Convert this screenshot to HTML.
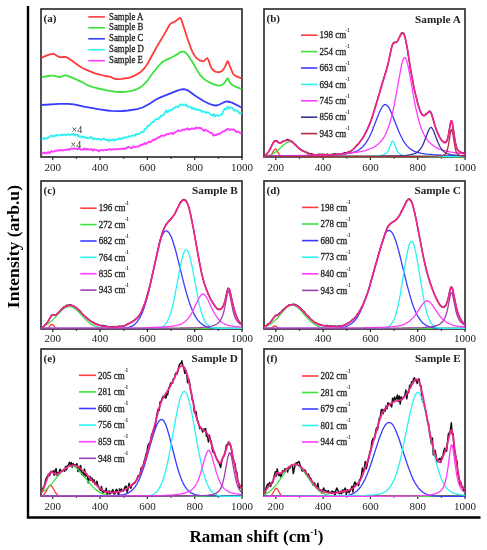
<!DOCTYPE html><html><head><meta charset="utf-8"><style>
body{margin:0;background:#fff;overflow:hidden}
svg{display:block;filter:blur(0.35px)}
text{font-family:"Liberation Serif",serif;fill:#222}
.tk{font-size:11px;text-anchor:middle;fill:#222}
.pl{font-size:11px;font-weight:bold;fill:#222}
.st{font-size:11.2px;font-weight:bold;text-anchor:end;fill:#222}
.lg{font-size:9px;fill:#1a1a1a;stroke:#1a1a1a;stroke-width:0.25px}
.sup{font-size:4.6px;stroke-width:0.15px}
.x4{font-size:10px;fill:#333}
.yt{font-size:17.6px;font-weight:bold;text-anchor:middle;fill:#000}
.xt{font-size:17px;font-weight:bold;text-anchor:middle;fill:#000}
.sup2{font-size:9px}
</style></head><body><svg width="487" height="550" viewBox="0 0 487 550"><defs><clipPath id="ca"><rect x="41" y="9" width="201" height="149"/></clipPath><clipPath id="cb"><rect x="264" y="9" width="201" height="149"/></clipPath><clipPath id="cc"><rect x="41" y="181" width="201" height="149"/></clipPath><clipPath id="cd"><rect x="264" y="181" width="201" height="149"/></clipPath><clipPath id="ce"><rect x="41" y="349" width="201" height="148"/></clipPath><clipPath id="cf"><rect x="264" y="349" width="201" height="148"/></clipPath></defs><rect x="41" y="9" width="201" height="148" fill="none" stroke="#262626" stroke-width="1.6"/><line x1="52.82" x2="52.82" y1="157" y2="160.0" stroke="#262626" stroke-width="1.2"/><line x1="76.47" x2="76.47" y1="157" y2="158.8" stroke="#262626" stroke-width="1.2"/><line x1="100.12" x2="100.12" y1="157" y2="160.0" stroke="#262626" stroke-width="1.2"/><line x1="123.76" x2="123.76" y1="157" y2="158.8" stroke="#262626" stroke-width="1.2"/><line x1="147.41" x2="147.41" y1="157" y2="160.0" stroke="#262626" stroke-width="1.2"/><line x1="171.06" x2="171.06" y1="157" y2="158.8" stroke="#262626" stroke-width="1.2"/><line x1="194.71" x2="194.71" y1="157" y2="160.0" stroke="#262626" stroke-width="1.2"/><line x1="218.35" x2="218.35" y1="157" y2="158.8" stroke="#262626" stroke-width="1.2"/><line x1="242.00" x2="242.00" y1="157" y2="160.0" stroke="#262626" stroke-width="1.2"/><rect x="264" y="9" width="201" height="148" fill="none" stroke="#262626" stroke-width="1.6"/><line x1="275.82" x2="275.82" y1="157" y2="160.0" stroke="#262626" stroke-width="1.2"/><line x1="299.47" x2="299.47" y1="157" y2="158.8" stroke="#262626" stroke-width="1.2"/><line x1="323.12" x2="323.12" y1="157" y2="160.0" stroke="#262626" stroke-width="1.2"/><line x1="346.76" x2="346.76" y1="157" y2="158.8" stroke="#262626" stroke-width="1.2"/><line x1="370.41" x2="370.41" y1="157" y2="160.0" stroke="#262626" stroke-width="1.2"/><line x1="394.06" x2="394.06" y1="157" y2="158.8" stroke="#262626" stroke-width="1.2"/><line x1="417.71" x2="417.71" y1="157" y2="160.0" stroke="#262626" stroke-width="1.2"/><line x1="441.35" x2="441.35" y1="157" y2="158.8" stroke="#262626" stroke-width="1.2"/><line x1="465.00" x2="465.00" y1="157" y2="160.0" stroke="#262626" stroke-width="1.2"/><rect x="41" y="181" width="201" height="148" fill="none" stroke="#262626" stroke-width="1.6"/><line x1="52.82" x2="52.82" y1="329" y2="332.0" stroke="#262626" stroke-width="1.2"/><line x1="76.47" x2="76.47" y1="329" y2="330.8" stroke="#262626" stroke-width="1.2"/><line x1="100.12" x2="100.12" y1="329" y2="332.0" stroke="#262626" stroke-width="1.2"/><line x1="123.76" x2="123.76" y1="329" y2="330.8" stroke="#262626" stroke-width="1.2"/><line x1="147.41" x2="147.41" y1="329" y2="332.0" stroke="#262626" stroke-width="1.2"/><line x1="171.06" x2="171.06" y1="329" y2="330.8" stroke="#262626" stroke-width="1.2"/><line x1="194.71" x2="194.71" y1="329" y2="332.0" stroke="#262626" stroke-width="1.2"/><line x1="218.35" x2="218.35" y1="329" y2="330.8" stroke="#262626" stroke-width="1.2"/><line x1="242.00" x2="242.00" y1="329" y2="332.0" stroke="#262626" stroke-width="1.2"/><rect x="264" y="181" width="201" height="148" fill="none" stroke="#262626" stroke-width="1.6"/><line x1="275.82" x2="275.82" y1="329" y2="332.0" stroke="#262626" stroke-width="1.2"/><line x1="299.47" x2="299.47" y1="329" y2="330.8" stroke="#262626" stroke-width="1.2"/><line x1="323.12" x2="323.12" y1="329" y2="332.0" stroke="#262626" stroke-width="1.2"/><line x1="346.76" x2="346.76" y1="329" y2="330.8" stroke="#262626" stroke-width="1.2"/><line x1="370.41" x2="370.41" y1="329" y2="332.0" stroke="#262626" stroke-width="1.2"/><line x1="394.06" x2="394.06" y1="329" y2="330.8" stroke="#262626" stroke-width="1.2"/><line x1="417.71" x2="417.71" y1="329" y2="332.0" stroke="#262626" stroke-width="1.2"/><line x1="441.35" x2="441.35" y1="329" y2="330.8" stroke="#262626" stroke-width="1.2"/><line x1="465.00" x2="465.00" y1="329" y2="332.0" stroke="#262626" stroke-width="1.2"/><rect x="41" y="349" width="201" height="147" fill="none" stroke="#262626" stroke-width="1.6"/><line x1="52.82" x2="52.82" y1="496" y2="499.0" stroke="#262626" stroke-width="1.2"/><line x1="76.47" x2="76.47" y1="496" y2="497.8" stroke="#262626" stroke-width="1.2"/><line x1="100.12" x2="100.12" y1="496" y2="499.0" stroke="#262626" stroke-width="1.2"/><line x1="123.76" x2="123.76" y1="496" y2="497.8" stroke="#262626" stroke-width="1.2"/><line x1="147.41" x2="147.41" y1="496" y2="499.0" stroke="#262626" stroke-width="1.2"/><line x1="171.06" x2="171.06" y1="496" y2="497.8" stroke="#262626" stroke-width="1.2"/><line x1="194.71" x2="194.71" y1="496" y2="499.0" stroke="#262626" stroke-width="1.2"/><line x1="218.35" x2="218.35" y1="496" y2="497.8" stroke="#262626" stroke-width="1.2"/><line x1="242.00" x2="242.00" y1="496" y2="499.0" stroke="#262626" stroke-width="1.2"/><rect x="264" y="349" width="201" height="147" fill="none" stroke="#262626" stroke-width="1.6"/><line x1="275.82" x2="275.82" y1="496" y2="499.0" stroke="#262626" stroke-width="1.2"/><line x1="299.47" x2="299.47" y1="496" y2="497.8" stroke="#262626" stroke-width="1.2"/><line x1="323.12" x2="323.12" y1="496" y2="499.0" stroke="#262626" stroke-width="1.2"/><line x1="346.76" x2="346.76" y1="496" y2="497.8" stroke="#262626" stroke-width="1.2"/><line x1="370.41" x2="370.41" y1="496" y2="499.0" stroke="#262626" stroke-width="1.2"/><line x1="394.06" x2="394.06" y1="496" y2="497.8" stroke="#262626" stroke-width="1.2"/><line x1="417.71" x2="417.71" y1="496" y2="499.0" stroke="#262626" stroke-width="1.2"/><line x1="441.35" x2="441.35" y1="496" y2="497.8" stroke="#262626" stroke-width="1.2"/><line x1="465.00" x2="465.00" y1="496" y2="499.0" stroke="#262626" stroke-width="1.2"/><g clip-path="url(#ca)" fill="none" stroke-width="1.8" stroke-linejoin="round"><path stroke="#ff3b3b" d="M41.5 57.7L49.0 54.6L52.0 53.9L53.5 53.9L55.0 54.5L58.5 56.7L59.5 57.1L61.0 57.2L64.5 56.9L66.0 57.2L67.5 57.8L72.0 60.7L78.5 65.4L82.0 67.7L86.0 69.7L95.0 73.3L105.0 76.0L110.5 76.8L114.0 78.6L115.5 79.0L118.0 79.1L121.5 78.9L127.5 78.0L130.5 77.3L134.0 75.9L138.0 73.8L141.0 71.7L144.0 68.7L146.0 66.0L148.5 62.0L156.5 47.2L164.5 33.9L169.5 25.0L171.0 23.4L172.0 22.8L174.0 22.2L177.0 20.1L179.0 18.3L180.0 17.9L180.5 18.2L181.0 18.8L181.5 19.9L187.5 38.7L191.5 49.7L193.0 53.0L194.0 54.7L195.5 56.8L197.0 58.4L199.5 60.3L201.5 61.0L203.0 61.1L204.0 61.0L204.5 60.7L206.5 58.5L207.0 58.2L207.5 58.4L208.5 60.1L210.5 66.0L212.0 68.8L213.0 70.0L214.5 71.2L216.0 71.9L217.5 72.2L219.0 72.2L220.0 72.0L221.5 71.3L222.5 70.5L224.0 68.4L225.5 65.7L227.5 61.2L228.0 61.4L228.5 62.5L232.0 71.5L233.0 73.5L234.0 74.8L236.5 76.4L241.5 78.3"/><path stroke="#3de23d" d="M41.5 77.1L48.5 76.0L52.5 75.6L54.0 75.7L58.0 76.8L59.5 77.0L61.0 76.7L64.5 75.5L66.5 75.5L68.5 76.1L80.5 81.3L83.5 82.8L88.5 85.7L92.0 86.9L96.0 88.0L108.0 90.6L116.0 91.8L122.0 92.0L126.5 91.7L130.0 91.2L133.5 90.4L137.0 89.1L140.0 87.5L142.5 85.7L144.5 83.8L148.0 79.8L150.0 76.8L158.0 66.5L161.5 62.8L163.5 61.2L165.5 60.1L173.0 56.8L180.0 52.4L182.0 51.6L183.5 51.6L185.0 52.2L185.5 52.6L186.5 53.5L188.0 55.3L193.0 63.0L197.5 71.0L200.0 74.8L203.0 78.1L206.5 80.7L210.0 82.6L214.0 84.4L217.5 85.4L220.0 85.7L222.0 85.0L224.5 83.0L225.5 81.6L227.0 78.7L227.5 78.4L228.0 78.5L228.5 79.3L230.0 82.7L231.5 84.4L234.5 86.2L241.5 89.2"/><path stroke="#3b3bff" d="M41.5 105.0L59.0 103.9L68.0 103.8L74.0 104.4L84.0 106.7L99.5 109.4L107.5 110.5L111.5 110.9L117.5 111.1L122.0 111.0L128.0 110.5L137.0 109.1L142.5 107.5L146.0 105.8L150.0 103.5L156.0 99.5L161.0 97.1L178.0 90.3L181.0 89.5L183.5 89.2L185.5 89.5L187.5 90.3L189.5 91.5L194.5 95.2L203.5 101.0L209.0 103.7L212.5 105.0L214.5 105.4L216.0 105.5L218.0 105.2L224.0 102.3L225.5 101.7L227.5 101.5L230.0 102.0L232.5 102.9L241.5 107.5"/><path stroke="#2ef2f2" d="M41.5 139.4L42.0 139.2L43.5 138.1L44.0 138.2L44.5 138.8L45.0 139.0L46.0 138.1L47.0 138.4L48.0 137.5L48.5 137.7L49.0 137.5L50.0 136.2L51.0 135.5L53.5 136.8L54.0 135.8L54.5 135.2L55.0 135.3L55.5 136.1L57.0 135.0L57.5 135.0L58.5 135.6L60.0 135.6L61.0 135.0L61.5 135.2L62.5 134.5L63.0 135.0L64.5 134.6L65.5 135.0L66.0 135.4L66.5 135.0L67.0 134.2L67.5 134.2L68.5 134.6L69.0 134.5L70.0 135.0L70.5 134.9L71.5 134.1L72.0 134.3L73.0 133.9L73.5 134.0L74.5 135.5L75.0 135.3L75.5 134.7L77.5 134.8L78.0 136.0L78.5 136.7L79.0 136.7L79.5 136.2L80.0 136.1L80.5 136.8L81.0 137.1L82.0 136.7L83.0 137.1L83.5 136.7L84.0 136.7L84.5 136.8L85.5 138.0L86.0 138.2L87.0 137.9L88.5 138.4L89.0 137.8L89.5 137.8L90.5 137.0L91.0 136.8L92.0 138.0L92.5 139.0L93.0 139.3L94.0 138.3L94.5 138.8L95.0 139.1L95.5 138.9L96.5 139.4L97.5 138.9L99.5 138.9L100.0 139.5L101.0 140.0L101.5 139.6L102.0 139.4L103.0 138.6L104.5 139.4L105.0 139.1L105.5 139.8L106.0 139.5L106.5 140.2L108.0 139.9L109.0 141.2L110.0 140.0L110.5 139.8L111.0 140.1L112.0 140.3L112.5 139.8L113.5 139.2L115.0 140.6L116.5 139.3L117.0 139.1L118.5 139.1L119.5 138.2L120.5 139.1L121.5 138.1L122.0 138.8L122.5 138.7L123.5 137.5L124.0 137.2L124.5 137.3L125.5 138.0L126.0 137.4L127.5 137.1L128.5 136.1L130.0 136.9L131.5 135.7L132.5 135.8L133.5 135.3L134.5 135.8L135.0 135.7L136.0 134.0L136.5 133.9L137.0 134.4L137.5 134.6L138.5 133.9L139.5 133.9L140.0 133.3L140.5 133.1L141.0 132.3L142.0 131.7L142.5 132.0L143.5 132.1L144.0 131.1L144.5 129.3L145.0 128.6L146.0 128.5L146.5 128.2L147.0 127.6L147.5 126.3L148.0 125.6L149.0 126.1L151.0 123.2L152.5 122.0L153.5 122.2L155.0 119.8L155.5 119.4L157.5 118.8L158.0 119.4L159.5 117.3L160.0 117.3L161.0 115.6L162.0 115.8L162.5 115.5L163.0 114.9L164.0 114.6L165.0 112.4L166.0 110.9L166.5 110.4L167.5 112.3L168.0 111.7L168.5 110.5L169.0 110.6L169.5 110.9L170.0 110.8L170.5 110.1L171.0 109.8L172.0 109.7L172.5 109.5L173.0 108.6L173.5 108.2L174.0 107.8L174.5 108.0L175.0 107.4L176.5 106.3L177.0 106.5L177.5 107.0L178.0 107.1L179.0 105.9L180.0 104.4L180.5 104.4L181.0 105.1L182.0 104.3L182.5 104.3L183.0 105.0L183.5 105.3L184.5 105.4L185.5 105.1L186.0 104.2L187.5 106.8L189.5 106.6L190.0 106.7L190.5 106.9L191.5 108.4L192.0 108.5L193.0 107.7L194.0 109.2L194.5 109.5L195.5 108.7L196.0 108.7L197.0 109.8L198.0 109.6L198.5 110.0L199.0 109.7L200.0 109.7L200.5 110.6L201.0 110.7L202.5 112.0L203.5 111.3L204.0 111.6L205.0 111.8L206.0 113.2L206.5 112.9L207.0 112.1L207.5 112.4L208.5 112.3L211.0 115.0L211.5 114.9L212.5 115.5L213.0 115.1L213.5 114.2L214.0 114.3L215.0 116.3L215.5 116.1L216.0 115.3L216.5 114.9L217.5 115.7L218.5 115.8L219.0 115.7L221.0 114.5L222.0 114.4L222.5 113.6L223.0 111.8L224.5 109.1L225.0 108.7L225.5 109.3L226.0 109.3L227.0 107.1L227.5 106.9L229.0 108.8L229.5 108.2L230.0 107.1L230.5 107.1L231.0 107.6L232.5 108.0L234.0 110.6L235.0 110.4L235.5 110.4L236.0 110.6L237.5 110.5L239.0 112.9L239.5 113.4L240.5 113.0L241.0 113.2L241.5 114.1"/><path stroke="#ff3bff" d="M41.5 153.5L42.5 153.6L43.5 152.6L44.0 152.7L44.5 153.2L45.5 152.7L46.0 152.9L46.5 153.6L48.0 152.0L48.5 152.5L49.5 153.2L50.0 152.4L50.5 152.3L51.0 151.4L51.5 151.2L52.5 151.6L53.5 151.7L54.0 151.6L54.5 151.0L55.0 150.7L56.0 150.9L58.0 150.1L58.5 150.1L59.0 150.6L59.5 150.5L60.5 149.9L62.0 150.2L62.5 150.6L64.5 149.8L65.5 149.8L66.0 150.0L67.5 149.2L68.0 149.3L68.5 149.8L69.5 149.4L70.0 148.7L70.5 149.0L72.0 148.4L72.5 149.0L73.0 149.2L74.0 148.2L75.0 148.7L77.5 149.1L78.5 148.6L79.0 148.1L80.5 149.7L81.0 149.3L82.0 149.4L82.5 149.9L83.0 149.7L84.0 148.4L84.5 148.4L85.5 149.6L86.0 149.8L86.5 149.1L87.0 148.8L87.5 149.5L89.0 149.0L89.5 149.8L90.0 149.7L90.5 149.7L91.0 149.2L91.5 149.1L92.5 150.4L93.0 150.6L94.0 149.3L94.5 149.2L95.5 150.1L96.0 150.2L97.0 149.8L97.5 150.0L98.5 151.2L99.0 151.3L100.0 150.1L102.0 149.9L103.5 150.5L105.0 149.8L106.0 149.8L107.0 150.1L108.5 149.4L110.0 149.2L110.5 149.2L111.5 149.9L113.5 149.2L114.5 149.4L115.0 149.1L115.5 149.2L116.5 149.5L117.0 149.2L117.5 149.3L118.0 148.9L118.5 148.9L119.0 148.9L119.5 149.3L120.0 149.3L121.0 148.7L122.5 149.1L123.0 148.4L123.5 148.3L124.5 149.2L125.0 149.1L125.5 148.2L126.0 148.0L126.5 148.0L127.5 147.2L128.0 147.0L128.5 147.1L129.0 146.8L129.5 147.5L130.0 147.8L131.0 147.9L131.5 148.4L132.0 148.2L133.0 146.7L133.5 146.4L135.0 147.0L135.5 147.0L137.0 146.3L138.0 146.8L138.5 146.6L139.5 145.9L140.5 144.9L141.0 144.7L142.0 145.3L143.0 144.2L143.5 144.0L144.0 144.0L144.5 143.3L145.0 143.0L146.0 144.0L147.0 143.1L147.5 143.0L148.5 141.6L149.0 141.5L149.5 142.2L150.5 142.3L153.0 139.8L153.5 139.6L154.0 140.1L154.5 139.9L155.5 138.6L156.0 138.7L157.0 138.6L158.5 137.0L159.5 137.5L160.5 136.1L161.0 135.8L161.5 136.0L162.0 135.6L162.5 135.5L163.5 136.1L164.0 135.6L165.0 135.2L165.5 135.4L167.0 134.0L168.5 134.1L170.0 133.3L170.5 133.5L171.5 133.0L172.0 133.0L173.0 134.3L174.0 133.0L175.0 132.7L176.0 131.6L177.0 131.6L178.0 130.2L179.0 130.8L179.5 130.9L180.0 130.7L180.5 130.9L181.5 130.6L183.0 129.5L184.0 129.9L184.5 129.8L185.0 129.3L185.5 129.1L186.0 129.4L187.5 128.2L188.5 129.8L189.0 129.7L189.5 129.0L190.0 129.3L190.5 129.3L191.5 128.4L192.5 128.8L193.0 128.3L194.5 129.1L195.0 128.7L195.5 127.8L196.0 127.5L196.5 127.5L197.0 128.1L197.5 128.2L198.0 128.3L198.5 127.8L199.0 127.6L200.0 128.3L200.5 128.2L201.0 128.5L201.5 128.2L203.5 130.8L204.0 131.0L205.0 129.6L205.5 129.6L206.5 130.6L208.0 130.9L208.5 131.6L209.5 132.4L211.0 132.9L211.5 132.7L212.0 133.0L213.0 135.2L213.5 135.7L214.0 135.5L214.5 135.0L216.0 135.0L216.5 134.5L218.0 134.1L219.0 133.4L220.0 134.0L221.0 132.8L221.5 132.7L222.5 131.6L223.0 131.4L223.5 131.5L224.5 131.1L225.5 130.3L226.0 129.6L226.5 129.9L228.0 128.6L229.5 130.1L230.0 129.7L231.0 129.4L231.5 129.7L232.5 129.8L233.5 129.3L234.0 129.5L235.0 130.5L236.0 132.0L236.5 132.2L237.5 131.3L238.0 131.4L239.5 132.7L240.5 132.8L241.5 134.0"/></g><g clip-path="url(#cb)" fill="none" stroke-linejoin="round"><path stroke="#111" stroke-width="1.2" d="M264.0 155.2L265.2 154.9L265.9 154.9L266.8 153.9L267.1 153.3L267.3 153.2L267.5 153.3L267.8 153.1L269.4 150.2L270.1 148.2L270.6 148.0L271.8 145.3L272.7 143.8L273.5 142.1L273.9 141.9L274.6 140.7L275.1 140.8L275.4 140.7L275.8 141.0L276.3 140.6L276.5 140.6L277.5 141.6L278.0 141.5L278.4 142.4L279.1 142.6L279.6 143.3L280.6 142.5L281.3 142.5L281.7 141.6L282.2 141.7L282.7 141.3L283.2 141.3L283.6 140.9L284.6 140.6L285.0 140.7L285.5 140.2L285.8 140.3L286.2 140.1L286.9 140.1L287.4 139.2L288.1 139.9L288.8 139.9L289.1 140.2L289.8 140.1L290.2 140.6L290.7 140.6L291.7 141.7L292.1 141.4L292.8 142.1L293.3 142.9L293.8 143.0L294.7 144.2L295.0 144.1L295.5 145.0L295.9 144.9L296.2 145.1L298.8 148.1L300.2 148.7L300.9 149.6L301.4 149.5L301.8 150.5L302.1 150.7L302.5 150.3L303.0 150.7L303.7 150.9L304.2 151.5L304.9 151.5L306.1 152.4L306.3 152.5L306.8 152.1L307.0 152.2L308.0 152.8L308.5 152.8L308.9 153.4L309.9 153.6L310.6 153.9L312.0 153.7L312.5 154.4L313.2 154.3L314.1 154.9L315.3 154.6L316.0 155.1L316.5 155.1L317.0 154.4L317.7 154.6L318.4 154.4L318.9 154.0L319.6 154.5L320.5 154.1L321.0 154.6L321.5 154.3L322.4 154.7L322.9 153.8L323.6 154.8L324.1 154.4L324.5 154.6L325.0 154.3L325.5 154.9L326.0 155.0L327.1 154.0L327.6 154.5L328.1 154.2L328.6 154.7L329.3 154.6L329.7 154.9L330.2 154.5L330.9 154.3L331.4 154.7L332.1 154.4L332.6 154.6L333.0 154.2L333.5 154.2L333.8 153.7L334.0 153.8L334.2 154.3L334.7 153.6L335.7 154.3L336.4 154.1L337.1 154.4L338.3 153.8L339.2 154.0L340.1 153.7L340.9 154.0L341.8 153.5L342.3 154.1L342.7 153.9L343.2 153.1L343.7 153.6L344.2 152.9L344.6 153.0L345.1 152.4L345.6 152.8L346.1 152.8L346.5 153.0L347.2 152.6L347.7 152.0L348.2 152.3L348.9 151.6L349.6 152.0L350.1 151.2L350.5 151.2L351.3 150.5L352.0 150.6L352.4 149.7L352.7 149.8L354.1 148.3L354.6 148.2L356.9 144.8L357.4 144.7L358.6 143.6L359.1 143.3L359.8 141.7L360.7 140.8L361.7 139.0L362.1 139.0L362.6 138.4L363.1 137.1L363.6 136.7L364.0 135.4L364.5 135.0L365.9 131.7L366.2 131.2L366.6 131.0L369.2 124.6L369.7 124.2L373.5 113.0L374.9 107.8L377.0 101.3L378.7 95.1L379.4 93.5L380.8 87.7L385.3 73.3L385.8 72.4L386.5 69.1L388.4 62.5L388.9 59.5L389.8 55.9L391.2 48.9L392.2 45.4L393.1 43.4L393.6 43.2L394.3 42.1L394.5 42.1L394.8 42.6L395.0 42.6L396.0 42.0L396.4 42.3L396.9 41.6L397.4 41.3L398.6 38.8L399.0 38.2L399.5 36.9L400.0 36.4L400.4 34.7L401.9 32.5L402.1 32.5L402.6 32.9L402.8 32.8L403.3 33.4L403.5 33.0L403.8 33.2L404.9 36.4L407.3 47.8L410.8 71.4L411.6 74.4L414.2 88.8L416.1 97.0L416.8 98.9L418.4 105.9L418.7 106.0L418.9 106.7L420.1 110.8L421.5 113.0L422.2 114.9L422.7 114.9L423.6 115.7L424.1 115.6L424.8 115.1L425.3 115.1L426.2 113.4L426.7 113.5L427.2 113.3L428.3 111.8L428.8 111.7L429.5 110.9L430.0 111.0L430.9 112.2L432.1 115.3L433.3 119.9L436.4 130.0L436.9 130.6L437.1 131.6L438.3 134.4L438.8 135.0L439.2 136.3L440.9 139.0L441.4 140.2L442.3 140.7L442.8 141.5L443.0 141.3L443.5 141.6L444.0 142.4L444.4 142.1L445.4 142.5L445.8 141.8L446.3 141.9L447.5 139.0L448.2 136.3L450.6 122.2L451.0 120.9L451.3 120.5L451.5 120.6L452.2 122.4L455.1 141.1L456.7 148.1L457.4 149.6L458.1 150.5L458.9 151.2L459.3 151.1L459.8 151.9L460.3 152.2L460.7 152.1L461.0 152.5L461.5 152.4L462.4 153.2L462.9 152.7L463.3 153.3L464.5 152.4L465.0 152.4"/><path stroke="#ff3b3b" stroke-width="1.3" d="M264.0 156.5L268.0 156.4L269.9 155.8L271.6 154.1L274.2 149.9L274.9 149.2L275.4 149.1L275.8 149.2L276.5 149.9L278.9 153.8L280.1 155.2L281.5 156.1L283.6 156.5L465.0 156.5"/><path stroke="#3de23d" stroke-width="1.3" d="M264.0 156.2L269.0 155.3L271.1 154.6L273.2 153.6L277.0 151.0L283.2 145.3L285.5 143.4L287.9 142.2L290.2 141.7L291.7 141.9L292.4 142.2L300.2 149.5L301.8 150.5L304.2 151.6L307.3 153.6L309.4 154.6L311.5 155.3L313.9 155.9L316.7 156.2L328.1 156.5L465.0 156.5"/><path stroke="#3b3bff" stroke-width="1.3" d="M264.0 156.2L306.6 155.8L331.9 155.0L340.6 154.5L347.2 153.7L352.2 152.7L356.0 151.5L359.1 149.8L361.9 147.6L364.5 144.8L366.9 141.4L369.2 137.2L371.6 132.2L378.7 114.1L380.8 109.3L382.0 107.2L383.2 105.7L384.4 104.7L385.3 104.5L386.5 104.9L387.7 105.9L388.9 107.6L390.0 109.8L392.2 114.7L398.6 131.1L400.7 135.8L402.8 139.8L404.9 143.2L407.1 145.9L409.2 148.0L411.6 149.8L414.4 151.4L417.7 152.5L421.5 153.4L426.5 154.1L433.1 154.7L441.6 155.2L465.0 155.8"/><path stroke="#2ef2f2" stroke-width="1.3" d="M264.0 156.5L357.9 156.4L372.1 156.1L379.6 155.6L382.2 155.2L384.1 154.6L385.5 153.8L386.7 152.8L387.9 151.1L388.9 149.3L391.7 142.0L392.2 141.3L392.6 141.0L393.1 141.3L393.6 142.0L396.4 149.3L398.1 152.2L399.0 153.2L400.2 154.1L401.6 154.8L403.3 155.3L408.5 155.9L417.5 156.3L465.0 156.5"/><path stroke="#ff3bff" stroke-width="1.3" d="M264.0 156.0L294.0 155.7L316.3 155.2L334.5 154.6L346.1 153.7L356.5 152.4L364.5 150.8L368.0 149.7L371.1 148.5L374.0 147.1L376.3 145.6L378.5 143.9L380.3 142.0L382.0 140.1L383.7 137.7L385.3 134.7L386.7 131.7L389.3 124.7L391.7 116.4L394.1 105.9L401.4 65.6L403.0 59.6L404.0 57.9L404.7 57.5L405.4 57.9L406.4 59.6L408.0 65.6L409.7 74.0L414.6 102.3L416.5 111.4L418.2 118.2L419.8 124.0L421.7 129.4L423.6 133.8L425.7 137.7L428.3 141.2L431.4 144.3L435.0 146.8L439.0 148.8L444.0 150.5L449.9 151.9L456.7 153.0L465.0 153.8"/><path stroke="#3434a0" stroke-width="1.3" d="M264.0 156.5L380.3 156.2L399.7 155.7L406.1 155.3L410.6 154.7L413.9 153.9L416.3 152.9L418.4 151.3L420.3 149.2L422.0 146.6L423.4 143.7L428.8 129.8L430.0 128.0L430.9 127.5L431.4 127.6L432.1 128.2L433.3 130.3L437.8 142.0L439.9 146.6L441.8 149.5L444.0 151.8L445.4 152.8L446.8 153.5L450.6 154.6L456.5 155.3L465.0 155.8"/><path stroke="#a83040" stroke-width="1.3" d="M264.0 156.5L418.2 156.4L434.3 156.2L441.6 155.7L443.5 155.4L444.9 154.7L445.8 153.7L446.8 151.8L448.2 146.3L450.6 132.0L451.0 130.2L451.5 129.5L452.0 130.2L452.5 132.0L455.3 148.6L456.0 151.2L456.7 152.9L457.7 154.3L459.1 155.2L461.2 155.7L465.0 156.1"/><path stroke="#f0268c" stroke-width="1.75" d="M264.0 155.6L264.9 155.5L265.7 155.2L267.5 153.2L269.7 150.0L273.2 142.7L274.4 141.4L275.4 141.0L276.5 141.2L278.7 142.8L279.8 143.2L280.8 143.0L283.6 141.3L285.8 140.5L287.9 140.3L289.8 140.7L291.2 141.3L292.8 142.5L299.2 148.7L301.1 150.1L309.4 153.8L311.3 154.4L313.2 154.7L329.0 154.8L336.1 154.5L341.1 154.0L345.3 153.3L347.5 152.7L350.8 151.2L353.1 149.4L358.1 144.3L361.9 139.3L365.2 133.8L368.8 126.3L371.1 120.2L374.0 111.6L386.3 70.5L388.4 62.5L391.5 48.3L392.4 44.8L392.9 43.7L393.6 42.9L396.0 42.5L397.1 41.6L398.3 39.7L400.9 34.4L401.9 33.3L402.6 33.0L403.3 33.4L404.0 34.5L404.7 36.4L405.6 39.9L407.3 48.6L411.1 72.7L413.9 87.6L417.9 104.2L419.6 109.5L421.0 112.9L422.0 114.4L422.7 115.2L423.4 115.6L424.1 115.7L425.5 115.0L428.8 111.8L429.8 111.7L430.5 112.3L431.2 113.4L431.9 115.2L435.4 127.3L438.0 134.1L439.7 137.4L441.4 139.9L443.0 141.8L444.4 142.7L445.4 142.7L446.1 142.3L446.8 141.1L447.3 139.9L448.4 135.1L450.6 122.7L451.0 121.1L451.3 120.7L451.5 120.7L452.0 121.6L452.5 123.8L455.3 142.6L456.0 145.7L457.0 148.6L458.4 150.9L460.0 152.2L462.9 153.3L463.8 153.3L465.0 153.0"/></g><g clip-path="url(#cc)" fill="none" stroke-linejoin="round"><path stroke="#111" stroke-width="1.2" d="M41.0 327.1L41.5 327.5L41.9 327.2L42.4 327.4L42.9 326.8L43.8 326.1L44.1 326.1L44.8 325.1L45.3 324.8L46.7 322.7L47.6 322.3L51.4 315.3L51.9 315.3L52.8 314.6L53.3 314.8L53.8 314.5L56.1 314.7L57.3 313.3L57.8 313.4L58.3 312.5L59.0 312.2L59.4 311.3L59.9 311.0L60.4 310.2L60.9 310.0L61.3 309.1L61.8 309.2L62.0 308.9L62.8 307.7L63.0 308.0L63.2 308.0L63.7 306.9L64.2 306.8L64.9 306.9L65.8 305.6L66.3 305.8L66.8 305.1L67.2 305.5L67.7 305.0L68.0 305.2L68.2 305.2L68.4 305.0L69.1 305.2L70.1 304.6L70.6 305.2L71.0 304.8L71.3 304.8L71.7 305.3L72.2 305.3L72.7 305.9L72.9 305.6L73.2 305.7L73.9 306.5L74.3 306.4L74.8 306.9L75.5 307.3L75.8 307.2L76.2 307.7L76.5 307.6L76.9 308.2L77.4 308.3L78.6 309.8L79.1 309.8L79.5 310.4L79.8 310.4L80.3 311.4L80.7 311.9L81.2 312.1L81.7 313.0L82.9 314.5L84.3 315.5L85.0 316.7L85.7 317.0L86.4 317.1L87.1 318.4L87.6 318.4L91.1 321.3L91.6 321.3L92.1 322.3L92.3 322.3L92.8 321.9L93.5 322.8L94.0 322.6L94.2 322.7L95.9 324.3L96.3 323.9L96.8 324.4L97.0 324.1L97.5 324.1L98.7 324.9L99.4 324.8L99.9 325.2L100.8 325.6L101.5 325.7L102.0 325.2L102.2 325.2L102.5 325.5L103.0 325.4L103.4 325.9L104.6 325.7L105.1 326.2L105.6 326.0L106.0 326.2L106.3 326.0L107.0 326.6L107.7 326.4L108.4 326.7L108.9 326.3L109.1 326.3L109.3 326.8L110.0 326.6L110.5 326.8L111.2 326.6L112.2 326.9L113.1 326.4L113.6 326.8L113.8 326.8L114.1 326.3L114.3 326.3L114.8 327.0L116.0 327.0L117.1 326.4L117.9 326.6L118.3 326.2L118.8 326.7L119.7 325.9L120.5 326.6L120.7 326.6L121.4 325.8L121.9 326.7L122.3 326.3L122.8 326.3L123.3 325.9L123.8 325.8L124.0 325.6L124.7 325.8L125.2 325.3L125.4 325.3L125.9 324.8L126.6 324.6L127.1 324.0L127.5 324.6L128.3 323.3L129.2 323.4L129.4 323.1L129.9 323.1L130.4 322.4L130.6 322.8L130.9 322.8L131.1 322.4L131.6 322.5L132.5 321.1L133.0 321.3L133.5 321.1L134.2 320.5L134.9 319.4L135.4 319.2L136.3 318.3L136.8 318.4L137.0 318.2L137.7 316.9L138.7 316.3L139.8 314.3L140.3 313.9L141.3 311.5L142.0 310.5L142.4 308.9L142.9 308.2L144.6 303.6L145.0 303.0L149.8 286.0L152.6 273.4L153.1 272.0L154.0 266.7L154.5 265.2L159.5 242.5L160.2 239.7L163.3 230.1L165.6 225.4L166.1 224.0L166.3 223.8L166.8 223.9L167.0 223.7L167.5 222.6L168.7 220.9L169.2 220.8L169.6 220.1L170.3 219.9L171.1 218.2L171.3 218.2L172.0 217.8L175.3 212.9L175.8 211.1L176.5 210.5L176.7 210.1L177.4 208.2L178.2 207.2L179.3 204.2L179.8 203.9L180.5 201.7L181.0 201.8L182.2 200.0L182.4 200.0L183.1 199.6L184.5 199.9L185.0 200.5L185.5 199.9L185.7 199.9L187.6 203.8L188.8 206.9L190.7 214.4L193.5 228.8L199.0 259.8L201.6 272.8L204.6 284.7L205.3 286.3L206.3 289.3L207.2 290.7L208.2 294.5L208.9 295.1L210.1 297.7L210.5 299.2L211.3 299.7L211.7 301.2L215.5 306.9L216.2 307.5L216.7 308.4L217.4 308.9L218.1 308.9L219.1 309.4L219.5 309.2L220.2 309.4L220.7 308.9L221.2 308.8L221.7 307.7L222.6 307.4L223.3 305.5L223.8 304.7L225.0 301.0L227.1 290.9L228.0 288.3L228.3 288.1L228.5 288.3L229.5 289.5L230.2 291.9L233.7 307.9L235.1 312.7L236.6 316.5L238.2 320.0L239.9 322.4L240.3 323.4L240.6 323.2L241.3 324.0L241.8 323.5L242.0 323.6"/><path stroke="#ff3b3b" stroke-width="1.3" d="M41.0 328.4L45.7 328.4L47.4 328.1L48.8 327.2L50.9 324.8L51.9 324.4L52.8 324.8L55.0 327.2L55.9 327.9L57.1 328.3L58.7 328.4L242.0 328.4"/><path stroke="#3de23d" stroke-width="1.3" d="M41.0 327.6L41.9 327.5L42.7 327.2L44.3 325.9L47.4 324.2L50.5 322.0L54.0 318.6L60.9 311.3L63.9 308.5L66.8 306.9L68.2 306.5L69.4 306.4L70.8 306.6L72.5 307.1L75.5 309.1L78.4 311.7L86.2 320.1L88.5 322.2L90.9 323.9L93.5 325.4L96.1 326.5L98.9 327.3L102.0 327.8L107.4 328.3L116.0 328.4L242.0 328.4"/><path stroke="#3b3bff" stroke-width="1.3" d="M41.0 328.4L110.8 328.4L121.2 328.3L125.7 327.9L129.0 327.3L131.8 326.2L134.4 324.6L137.0 322.0L139.6 318.2L142.0 313.4L144.3 307.2L146.7 299.4L149.1 290.1L157.8 250.2L159.7 242.8L161.4 237.6L163.0 233.7L164.7 231.4L165.4 231.0L166.1 230.8L166.8 230.9L167.7 231.5L169.4 233.4L171.1 236.5L172.7 240.8L176.0 251.8L184.3 285.2L188.3 299.4L190.7 306.3L193.1 312.1L195.4 316.6L197.8 320.1L200.4 323.0L203.2 325.1L206.3 326.6L209.8 327.5L213.6 328.0L218.8 328.3L242.0 328.4"/><path stroke="#2ef2f2" stroke-width="1.3" d="M41.0 328.4L152.4 328.4L158.8 327.9L160.9 327.4L162.5 326.7L164.9 324.9L167.0 322.1L168.9 318.2L170.8 312.8L172.5 306.8L174.4 298.2L179.8 268.9L181.9 258.9L183.1 254.6L184.1 252.1L185.2 250.2L186.2 249.7L187.1 250.2L188.1 251.6L189.0 253.9L190.0 257.1L192.1 266.5L197.3 294.7L199.9 306.8L201.3 312.1L203.0 317.0L204.4 320.3L206.1 323.2L207.7 325.1L209.6 326.6L211.7 327.5L214.1 328.0L220.2 328.4L242.0 328.4"/><path stroke="#ff3bff" stroke-width="1.3" d="M41.0 328.3L108.4 328.2L143.6 327.8L164.2 327.0L171.1 326.4L176.0 325.7L179.6 324.7L182.6 323.3L185.2 321.5L187.6 319.1L189.7 316.3L192.1 312.3L198.0 300.0L199.7 296.9L201.3 294.8L202.3 294.1L203.0 294.0L203.7 294.1L204.4 294.6L206.1 296.5L207.7 299.5L212.2 309.1L214.8 314.0L217.6 318.2L220.7 321.5L222.4 322.7L224.3 323.8L228.3 325.3L234.0 326.3L242.0 327.1"/><path stroke="#9c3fb0" stroke-width="1.3" d="M41.0 328.4L179.6 328.1L199.7 327.6L205.8 327.1L210.3 326.5L214.1 325.4L216.9 324.0L219.3 321.9L221.2 319.0L222.6 315.7L223.8 311.8L225.0 306.4L227.3 293.9L228.0 291.7L228.5 291.2L229.0 291.7L229.7 293.9L232.8 309.8L233.7 313.5L234.9 317.0L236.3 319.9L237.7 321.9L239.6 323.6L242.0 325.0"/><path stroke="#f0268c" stroke-width="1.75" d="M41.0 327.6L41.9 327.5L42.9 327.1L45.7 324.4L47.9 321.7L50.9 316.3L51.9 315.2L52.8 314.9L54.7 315.2L55.9 314.9L57.1 314.0L61.3 309.7L63.9 307.4L66.5 305.9L69.1 305.3L70.8 305.3L72.5 305.7L74.1 306.4L75.8 307.5L78.6 310.0L86.6 318.1L89.0 320.1L91.1 321.6L93.7 323.1L96.3 324.3L101.3 325.8L105.8 326.5L111.5 327.0L118.1 326.8L121.9 326.5L124.9 325.6L128.7 323.8L133.0 321.5L136.1 319.1L137.5 317.7L138.9 316.0L141.3 312.1L143.6 306.7L146.2 299.2L148.4 291.7L150.7 282.2L159.5 243.2L161.6 235.4L163.5 230.0L165.1 226.4L166.8 223.7L168.5 221.7L172.2 217.6L174.4 214.6L176.0 211.6L179.3 204.6L180.8 202.3L182.4 200.6L183.1 200.2L184.1 200.0L184.8 200.2L185.5 200.6L186.7 202.0L188.1 205.2L189.3 209.0L190.9 216.2L193.3 228.2L199.2 261.2L201.8 274.0L203.2 279.7L204.9 285.3L207.0 291.1L209.6 297.2L212.2 302.1L216.0 307.6L217.2 308.7L218.4 309.4L219.5 309.6L220.5 309.4L221.4 308.8L222.1 308.0L223.1 306.4L223.8 304.8L225.0 301.0L227.6 289.9L228.3 288.4L228.8 288.4L229.2 289.0L229.7 290.4L233.0 305.1L234.7 311.1L236.3 316.2L237.7 319.5L239.2 322.0L240.6 323.6L242.0 324.2"/></g><g clip-path="url(#cd)" fill="none" stroke-linejoin="round"><path stroke="#111" stroke-width="1.2" d="M264.0 327.0L264.7 326.2L265.2 326.8L265.7 326.1L266.1 326.1L266.4 325.5L266.6 325.2L266.8 325.3L267.5 324.2L268.0 324.2L268.3 323.8L269.2 323.4L269.7 322.6L270.6 322.2L271.8 320.1L273.0 318.6L273.7 317.2L274.2 317.0L274.9 315.9L275.8 315.1L277.5 315.0L278.0 314.2L279.1 313.7L279.8 312.7L280.3 312.8L280.8 312.2L281.0 312.4L281.3 312.3L281.7 310.9L282.2 310.3L283.2 309.8L283.6 309.0L284.1 309.0L285.0 307.9L285.5 307.9L286.0 307.0L286.2 307.0L286.7 306.3L287.2 306.4L287.9 305.6L288.4 305.6L288.8 304.8L289.3 305.0L289.8 304.7L290.2 304.8L291.4 304.5L292.1 304.6L292.8 304.2L293.6 304.8L294.3 304.0L295.2 305.0L295.5 305.0L295.7 304.6L296.2 305.0L296.6 305.0L297.6 306.2L297.8 305.8L298.1 305.8L298.8 306.8L299.2 306.9L300.4 308.0L300.9 308.8L301.4 308.7L301.8 309.6L302.3 309.7L302.8 310.8L303.3 311.3L304.0 311.7L304.4 311.5L305.4 313.6L306.6 314.7L307.0 315.5L308.0 315.7L308.7 316.9L308.9 317.1L309.2 316.9L309.4 317.1L309.6 317.9L310.3 319.0L310.8 319.0L312.5 320.7L313.4 321.0L314.6 322.5L314.8 322.3L315.1 322.4L316.0 323.0L316.3 322.9L316.7 323.4L317.0 323.2L317.2 323.3L317.9 324.4L318.4 324.0L318.9 324.5L319.3 324.1L319.8 324.5L320.0 324.3L321.0 325.2L322.2 324.9L323.1 325.8L323.8 325.6L324.5 325.8L324.8 325.7L325.5 325.6L326.0 325.9L326.4 325.5L326.7 325.6L327.1 325.3L327.6 325.7L327.8 325.6L328.3 326.0L329.5 325.9L330.0 326.3L330.4 325.8L330.9 326.1L331.4 325.8L332.6 326.6L333.0 326.1L333.5 326.3L334.0 325.9L334.5 326.3L334.9 326.1L335.4 326.4L335.7 326.0L335.9 325.9L336.4 327.0L337.3 326.1L337.8 326.3L338.5 326.3L339.0 325.5L339.4 326.2L340.1 326.4L340.9 325.8L341.6 326.2L342.3 325.6L343.2 325.2L343.7 325.7L344.4 324.6L345.3 324.7L345.8 324.2L346.3 324.2L347.2 323.6L348.2 322.7L349.4 322.8L349.8 322.2L350.8 321.6L351.7 320.0L352.4 319.8L353.1 319.3L354.1 318.3L355.0 317.7L355.5 316.8L355.8 317.0L356.7 315.3L356.9 315.1L357.4 313.8L358.1 313.3L358.8 312.3L360.5 309.2L361.0 308.7L364.0 302.3L364.7 299.8L365.4 298.6L366.2 296.4L366.6 295.6L368.8 289.3L370.9 282.1L372.1 277.0L374.2 269.5L374.9 267.6L375.4 265.3L376.8 261.4L377.5 258.1L380.1 249.3L380.6 247.2L381.1 246.3L381.5 244.1L382.7 241.0L384.4 235.4L384.8 234.5L386.5 229.6L387.0 228.8L387.4 227.0L387.9 226.6L388.4 225.6L388.9 225.4L389.6 224.2L390.7 223.5L391.7 222.4L392.2 222.4L393.1 221.6L393.8 221.4L394.3 220.8L394.5 221.1L395.0 220.6L395.2 220.7L396.2 219.2L396.7 219.1L397.4 218.1L397.8 217.7L398.3 216.7L398.8 216.5L400.0 214.6L401.6 210.5L401.9 210.2L402.6 209.9L403.3 207.5L404.0 206.0L404.5 205.6L405.2 203.6L406.6 200.8L406.8 200.5L407.3 200.5L408.0 199.2L409.2 199.1L409.7 198.8L410.4 200.1L410.8 200.2L411.1 200.6L412.5 203.8L415.1 214.1L423.9 259.5L426.7 271.0L427.2 272.2L427.9 275.6L429.1 278.7L430.5 283.6L434.5 294.6L435.0 295.2L436.2 298.3L437.1 299.5L437.8 301.6L438.5 302.9L439.0 303.2L439.9 305.2L440.4 305.1L440.9 305.7L441.6 306.2L442.8 307.5L443.0 307.5L444.2 306.6L444.7 306.5L445.1 305.5L445.6 305.7L446.8 302.8L448.4 297.5L449.6 291.4L450.8 287.4L451.3 286.8L452.2 288.0L452.7 289.3L456.3 306.8L457.2 310.5L459.1 316.1L460.3 318.6L462.9 322.4L463.6 323.2L463.8 323.3L464.3 323.1L464.5 323.6L464.8 323.7L465.0 323.7"/><path stroke="#ff3b3b" stroke-width="1.3" d="M264.0 328.4L268.7 328.4L270.4 328.2L271.8 327.6L273.9 326.2L274.9 325.9L275.8 326.2L278.0 327.6L278.9 328.1L281.7 328.4L465.0 328.4"/><path stroke="#3de23d" stroke-width="1.3" d="M264.0 327.1L268.3 325.5L272.0 323.1L276.3 319.2L283.4 311.0L286.2 308.1L287.9 306.8L289.3 306.0L291.0 305.4L292.4 305.2L293.8 305.4L295.2 305.9L296.6 306.6L298.3 307.9L301.1 310.7L308.9 319.7L311.3 321.9L313.7 323.8L316.0 325.2L318.6 326.4L321.5 327.3L324.5 327.8L330.0 328.2L338.3 328.4L465.0 328.4"/><path stroke="#3b3bff" stroke-width="1.3" d="M264.0 328.4L324.5 328.4L336.4 328.1L341.3 327.7L345.3 326.8L348.7 325.5L351.7 323.5L354.6 320.8L357.4 317.0L360.0 312.5L362.6 306.6L366.6 295.8L368.8 289.3L380.1 249.3L385.1 233.7L386.3 232.1L387.2 231.1L388.1 230.6L389.1 230.4L390.5 230.9L392.2 232.7L393.8 235.8L395.5 240.0L397.1 245.2L399.0 252.0L407.1 285.1L411.1 299.6L413.4 306.5L415.8 312.3L418.2 316.9L420.5 320.4L423.1 323.2L425.7 325.1L428.8 326.6L432.6 327.6L436.4 328.1L441.4 328.3L465.0 328.4"/><path stroke="#2ef2f2" stroke-width="1.3" d="M264.0 328.4L378.7 328.4L384.8 328.0L387.0 327.4L388.6 326.6L389.8 325.7L391.0 324.6L393.1 321.3L395.0 316.9L396.7 311.5L398.3 304.5L400.0 296.1L405.4 262.6L407.3 252.3L408.5 247.3L409.4 244.3L410.6 242.0L411.1 241.5L411.6 241.4L412.3 241.7L413.2 243.1L414.2 245.6L415.1 249.1L417.2 259.8L422.2 290.7L424.8 304.5L426.2 310.6L427.6 315.5L429.1 319.3L430.7 322.6L432.4 324.8L434.0 326.3L436.2 327.4L438.5 328.0L444.2 328.4L465.0 328.4"/><path stroke="#ff3bff" stroke-width="1.3" d="M264.0 328.3L329.0 328.2L364.3 327.9L385.5 327.2L392.4 326.7L397.6 326.1L401.4 325.3L404.7 324.1L407.5 322.6L410.1 320.7L412.5 318.4L414.9 315.6L421.5 305.7L423.4 303.2L425.3 301.4L426.2 301.0L427.2 300.8L428.8 301.3L430.7 302.9L432.6 305.4L437.6 312.9L440.2 316.5L443.0 319.6L446.1 322.1L449.4 324.0L453.4 325.4L458.4 326.3L465.0 327.0"/><path stroke="#9c3fb0" stroke-width="1.3" d="M264.0 328.4L402.6 328.1L422.7 327.6L428.8 327.2L433.3 326.5L437.1 325.5L439.9 324.1L442.3 322.1L444.2 319.3L445.6 316.1L446.8 312.3L448.0 307.2L450.3 295.0L451.0 292.8L451.5 292.4L452.0 292.8L452.7 295.0L455.8 310.4L456.7 314.0L457.9 317.3L459.3 320.1L460.7 322.1L462.6 323.8L465.0 325.1"/><path stroke="#f0268c" stroke-width="1.75" d="M264.0 327.0L266.4 325.8L269.7 323.1L271.3 321.2L273.9 317.4L275.1 316.1L276.1 315.5L278.0 314.9L279.1 314.2L284.6 308.6L287.2 306.4L289.5 305.2L291.7 304.7L293.3 304.7L295.0 305.0L296.4 305.6L298.1 306.6L301.6 309.7L310.1 318.6L312.7 321.0L314.4 322.3L316.3 323.4L320.5 324.9L325.2 325.9L330.2 326.4L335.9 326.5L340.9 326.2L343.5 325.6L346.8 324.2L349.4 322.6L352.0 320.6L355.5 317.1L358.6 312.9L362.6 305.5L365.7 298.3L367.6 293.0L369.7 286.1L380.8 246.9L385.1 233.7L387.0 228.8L388.4 226.2L390.0 224.2L391.7 222.8L395.5 220.5L397.6 218.4L399.0 216.2L401.2 212.4L406.4 201.8L407.8 199.9L409.0 199.3L409.7 199.4L410.1 199.8L411.1 201.1L412.3 203.9L413.4 207.8L416.1 219.1L422.2 251.4L425.5 266.6L427.6 274.8L429.8 281.9L432.4 289.4L434.7 295.1L437.8 301.5L440.2 305.3L441.1 306.4L442.1 307.1L443.0 307.4L444.0 307.2L444.7 306.8L445.4 305.9L446.8 303.1L448.0 299.2L450.3 289.3L451.0 287.5L451.5 287.1L451.8 287.2L452.2 288.1L452.9 290.5L456.0 306.0L457.2 310.7L458.4 314.4L460.0 318.2L461.9 321.4L463.6 323.3L465.0 324.1"/></g><g clip-path="url(#ce)" fill="none" stroke-linejoin="round"><path stroke="#111" stroke-width="1.5" d="M41.0 491.9L41.9 492.4L42.9 488.0L43.8 487.3L44.8 484.2L45.7 479.9L46.7 477.3L47.6 476.1L48.6 474.0L49.5 475.7L50.5 472.2L51.4 471.3L52.4 472.8L53.3 470.7L54.2 475.3L55.2 470.3L56.1 468.7L57.1 475.5L58.0 472.7L59.0 473.7L59.9 469.3L60.9 470.7L61.8 470.8L62.8 470.9L63.7 469.3L64.6 471.4L65.6 466.5L66.5 470.0L67.5 465.4L68.4 465.2L69.4 462.3L70.3 464.2L71.3 462.6L72.2 467.3L73.2 463.5L74.1 465.6L75.1 464.8L76.0 465.4L76.9 463.6L77.9 471.5L78.8 466.3L79.8 471.5L80.7 465.5L81.7 474.2L82.6 472.6L83.6 476.1L84.5 469.0L85.5 475.9L86.4 473.4L87.3 476.5L88.3 482.8L89.2 478.4L90.2 476.5L91.1 480.5L92.1 478.1L93.0 482.1L94.0 479.7L94.9 484.1L95.9 483.5L96.8 481.3L97.8 485.4L98.7 486.6L99.6 489.0L100.6 490.3L101.5 486.6L102.5 492.0L103.4 492.2L104.4 491.1L105.3 492.0L106.3 488.2L107.2 495.8L108.2 492.1L109.1 490.9L110.0 494.1L111.0 492.5L112.9 489.6L113.8 493.8L114.8 494.0L115.7 490.4L116.7 489.3L118.6 495.4L119.5 488.9L120.5 491.6L121.4 489.0L122.3 490.7L123.3 490.9L124.2 489.1L125.2 486.6L126.1 486.1L127.1 492.2L128.0 489.3L129.0 483.3L129.9 486.8L130.9 488.2L131.8 484.7L132.8 484.2L133.7 483.4L134.6 483.3L136.5 480.2L137.5 477.5L138.4 475.6L139.4 475.6L140.3 473.2L141.3 467.7L142.2 467.3L143.2 465.9L144.1 461.5L145.0 458.9L146.0 454.1L146.9 452.3L147.9 445.8L148.8 443.5L149.8 443.5L150.7 440.9L151.7 434.1L152.6 433.4L153.6 429.6L154.5 429.6L155.5 424.7L156.4 417.6L157.3 412.6L158.3 408.8L159.2 410.5L160.2 401.5L161.1 402.2L162.1 398.2L163.0 396.3L164.0 397.5L164.9 395.7L165.9 398.1L166.8 393.9L167.7 394.8L168.7 387.8L169.6 387.1L170.6 383.2L171.5 382.7L172.5 383.3L173.4 378.8L174.4 378.6L175.3 374.0L176.3 372.6L177.2 373.8L178.2 369.3L179.1 365.4L180.0 363.6L181.0 363.2L181.9 360.9L182.9 366.4L183.8 367.3L184.8 373.5L185.7 370.3L186.7 373.7L187.6 382.8L188.6 378.7L189.5 382.0L190.4 389.7L191.4 393.5L192.3 400.1L193.3 400.9L194.2 411.7L195.2 413.3L196.1 411.6L197.1 419.7L198.0 421.4L199.9 428.8L200.9 427.6L201.8 429.2L202.7 432.0L203.7 429.3L204.6 429.1L205.6 428.6L206.5 436.3L207.5 436.1L208.4 442.0L209.4 435.3L210.3 439.2L211.3 441.8L212.2 448.7L213.2 452.3L214.1 451.9L215.0 454.4L216.0 457.4L217.9 461.1L218.8 462.0L219.8 465.3L220.7 467.5L221.7 461.1L222.6 457.8L223.6 456.6L224.5 454.7L225.4 451.1L226.4 444.9L227.3 445.1L228.3 442.3L229.2 444.4L230.2 445.1L231.1 446.7L232.1 454.2L233.0 459.3L234.0 462.2L234.9 463.4L235.9 470.8L236.8 472.1L237.7 479.9L238.7 483.4L239.6 487.9L240.6 487.7L241.5 484.8"/><path stroke="#ff3b3b" stroke-width="1.3" d="M41.0 496.2L42.9 495.4L44.3 494.2L45.7 492.1L48.8 486.5L49.7 485.5L50.5 485.3L51.2 485.5L52.1 486.5L55.4 492.5L57.1 494.7L58.0 495.4L59.0 495.9L61.6 496.3L242.0 496.4"/><path stroke="#3de23d" stroke-width="1.3" d="M41.0 492.8L45.3 490.1L49.3 486.4L52.8 482.4L61.6 471.5L68.0 466.7L69.4 466.0L71.0 465.8L72.7 466.1L74.3 466.7L76.2 467.9L78.1 469.5L81.4 473.1L90.7 484.6L93.5 487.6L96.1 489.9L98.9 491.9L101.8 493.4L104.8 494.6L108.4 495.4L114.8 496.1L124.5 496.4L242.0 496.4"/><path stroke="#3b3bff" stroke-width="1.3" d="M41.0 496.3L90.9 496.1L114.5 495.6L119.7 495.2L123.8 494.6L126.8 493.6L129.7 492.1L132.5 489.9L135.1 486.8L137.5 483.0L139.8 478.1L142.2 472.1L144.6 465.0L152.4 437.7L155.5 428.2L157.1 424.3L158.5 421.7L160.2 419.9L161.6 419.4L162.8 419.8L164.2 421.5L165.6 424.3L167.0 428.2L169.6 437.1L176.7 465.0L178.6 471.5L180.5 477.0L182.4 481.7L184.3 485.4L186.2 488.3L188.3 490.8L190.7 492.6L193.3 493.9L196.1 494.8L199.9 495.4L212.0 495.9L242.0 496.2"/><path stroke="#2ef2f2" stroke-width="1.3" d="M41.0 496.4L142.4 496.3L146.7 496.1L150.0 495.6L152.6 494.7L155.0 493.3L156.4 492.1L157.8 490.5L160.2 486.7L162.5 481.3L164.7 474.7L166.8 466.5L168.9 456.5L176.0 417.1L178.6 404.4L180.0 398.9L181.5 394.8L182.9 392.3L183.6 391.6L184.3 391.4L184.8 391.5L185.5 392.0L186.7 393.8L187.8 396.7L189.3 401.5L192.1 414.6L198.5 450.4L201.6 465.4L203.5 473.1L205.1 478.6L206.8 483.1L208.7 487.2L210.5 490.2L212.7 492.5L215.0 494.2L217.9 495.4L221.0 496.0L224.7 496.3L242.0 496.4"/><path stroke="#ff3bff" stroke-width="1.3" d="M41.0 496.3L116.2 496.2L152.9 495.7L164.4 495.4L173.2 494.8L179.8 494.1L185.0 493.0L188.8 491.7L191.6 489.9L194.2 487.3L196.4 484.0L198.3 480.0L200.1 474.9L205.1 457.4L206.3 453.8L207.5 451.3L208.2 450.5L208.7 450.4L209.1 450.5L209.8 451.3L211.3 454.4L216.2 471.9L218.6 478.9L220.7 483.6L222.8 487.0L224.3 488.6L225.9 490.1L227.6 491.2L229.7 492.2L232.1 493.0L234.9 493.6L242.0 494.6"/><path stroke="#9c3fb0" stroke-width="1.3" d="M41.0 496.4L141.7 496.3L182.4 496.1L202.3 495.6L208.2 495.1L212.7 494.3L215.8 493.4L218.1 491.9L220.0 489.7L221.4 486.9L222.8 482.7L224.0 477.9L228.0 456.5L229.0 453.4L229.7 452.6L230.4 453.4L231.4 456.5L234.9 475.7L236.8 483.5L238.0 486.9L239.2 489.3L240.6 491.2L242.0 492.5"/><path stroke="#f0268c" stroke-width="1.75" d="M41.0 492.4L42.2 491.0L43.4 488.9L48.1 476.2L49.3 473.7L50.2 472.4L50.9 471.9L51.9 471.9L55.4 474.2L56.4 474.4L57.3 474.3L59.4 473.1L68.0 466.7L69.8 465.8L72.0 465.3L74.1 465.4L76.0 465.9L78.1 466.9L80.5 468.6L86.4 473.9L92.3 480.8L98.5 487.1L102.5 490.3L103.9 491.1L105.3 491.6L109.1 492.4L112.4 492.6L116.9 492.2L121.2 491.3L123.5 490.5L126.4 489.0L133.5 483.7L136.1 480.8L138.7 476.6L141.3 470.9L143.9 463.8L146.2 456.3L148.8 447.2L154.7 425.3L159.2 407.6L161.4 401.2L163.7 396.4L168.0 390.3L170.1 386.7L178.9 368.3L180.5 366.1L181.2 365.6L181.9 365.5L182.6 365.7L183.4 366.2L184.5 367.7L186.0 370.9L187.4 375.3L190.4 388.2L195.4 413.8L197.1 420.1L199.0 425.0L199.9 426.6L201.3 428.4L203.0 429.9L205.8 431.8L206.8 432.9L207.7 434.4L209.6 438.9L215.3 455.6L217.9 461.4L218.6 462.6L219.3 463.2L219.8 463.3L220.5 462.9L221.7 460.8L225.0 452.7L228.0 443.4L228.5 442.6L229.0 442.2L229.7 442.8L230.4 444.6L231.4 448.5L236.1 472.8L237.7 479.9L238.7 483.0L239.6 485.3L240.8 487.2L242.0 488.2"/></g><g clip-path="url(#cf)" fill="none" stroke-linejoin="round"><path stroke="#111" stroke-width="1.5" d="M264.0 494.2L264.9 494.3L265.9 489.0L266.8 485.8L267.8 484.0L268.7 485.8L269.7 482.4L270.6 486.6L271.6 482.6L272.5 483.2L274.4 475.0L275.4 471.8L276.3 476.2L277.2 468.9L278.2 473.9L279.1 475.8L280.1 473.5L281.0 477.1L282.0 472.3L282.9 470.7L283.9 471.6L284.8 468.7L285.8 470.4L286.7 468.7L287.6 472.1L288.6 467.0L289.5 468.7L290.5 466.8L291.4 465.2L292.4 465.5L293.3 473.6L294.3 468.5L295.2 464.8L296.2 462.7L297.1 463.3L298.1 462.2L299.0 461.5L299.9 464.5L300.9 466.8L301.8 470.6L302.8 471.2L303.7 470.9L304.7 469.8L305.6 471.1L306.6 474.7L307.5 474.9L308.5 474.1L309.4 476.7L310.3 477.9L311.3 479.3L312.2 482.8L313.2 485.3L314.1 482.8L315.1 484.2L316.0 486.8L317.0 488.2L317.9 483.2L318.9 490.6L320.8 489.7L321.7 493.1L322.6 490.9L323.6 487.9L324.5 489.9L325.5 490.8L326.4 491.1L327.4 492.2L328.3 490.7L329.3 493.0L330.2 492.3L331.2 492.6L332.1 491.1L333.0 492.2L334.0 491.5L334.9 496.7L335.9 490.4L336.8 488.0L337.8 489.8L338.7 492.9L339.7 493.7L340.6 491.3L341.6 493.7L342.5 490.0L343.5 492.3L344.4 489.1L345.3 488.0L346.3 494.7L347.2 489.7L348.2 491.5L349.1 492.7L350.1 490.6L351.0 489.4L352.0 486.2L352.9 491.9L353.9 484.9L354.8 481.9L355.8 484.4L356.7 483.5L357.6 483.7L358.6 485.6L359.5 479.9L360.5 478.6L361.4 475.6L362.4 467.9L363.3 471.6L364.3 469.2L365.2 461.6L366.2 468.8L367.1 465.4L368.0 460.3L369.0 458.1L369.9 451.2L370.9 451.0L371.8 441.7L372.8 439.0L373.7 437.9L374.7 437.9L375.6 431.6L376.6 427.8L377.5 430.0L378.5 422.6L379.4 418.5L380.3 417.0L381.3 409.8L382.2 409.4L383.2 413.6L384.1 409.4L385.1 411.0L386.0 406.0L387.0 408.8L387.9 402.8L388.9 403.6L389.8 403.7L391.7 406.9L392.6 398.2L393.6 402.1L394.5 397.1L395.5 399.5L396.4 398.5L397.4 395.0L398.3 401.4L399.3 396.0L400.2 404.1L401.2 396.8L402.1 399.5L403.0 398.4L404.0 397.0L404.9 395.0L405.9 390.1L406.8 398.8L407.8 392.0L408.7 392.5L409.7 385.2L410.6 387.9L411.6 381.7L412.5 384.2L413.4 379.3L414.4 377.7L415.3 380.9L416.3 379.2L417.2 383.5L418.2 379.2L419.1 379.1L420.1 385.7L421.0 385.8L422.0 399.0L422.9 401.4L423.9 404.9L424.8 407.3L425.7 411.1L427.6 421.5L428.6 424.1L429.5 432.3L431.4 443.6L432.4 438.0L433.3 454.9L434.3 450.6L435.2 450.6L437.1 461.8L438.0 459.8L439.0 459.3L439.9 458.3L440.9 462.4L441.8 457.1L442.8 456.3L443.7 451.4L444.7 448.3L445.6 451.0L446.6 451.2L448.4 433.8L449.4 432.8L450.3 430.7L451.3 422.8L452.2 434.4L453.2 433.9L454.1 448.6L455.1 452.4L456.0 459.0L457.0 461.2L457.9 473.8L458.9 477.5L459.8 484.3L460.7 482.2L461.7 486.9L462.6 486.4L463.6 490.4L464.5 489.9"/><path stroke="#ff3b3b" stroke-width="1.3" d="M264.0 496.4L268.7 496.3L269.9 496.1L270.9 495.6L271.8 494.8L272.5 493.8L275.1 489.2L275.8 488.5L276.3 488.4L276.8 488.5L277.5 489.2L279.8 493.5L281.0 495.0L282.4 496.0L284.6 496.4L465.0 496.4"/><path stroke="#3de23d" stroke-width="1.3" d="M264.0 494.4L266.4 493.4L268.5 492.2L270.6 490.6L272.5 488.9L274.6 486.7L277.0 483.8L285.0 472.3L288.1 468.4L289.8 466.8L291.4 465.6L293.1 464.9L294.7 464.6L296.4 464.9L298.1 465.6L299.7 466.8L301.4 468.4L304.4 472.3L312.9 484.4L315.6 487.5L317.9 489.8L320.5 491.9L323.4 493.5L326.2 494.7L329.5 495.5L335.4 496.2L344.4 496.4L465.0 496.4"/><path stroke="#3b3bff" stroke-width="1.3" d="M264.0 496.4L339.4 496.3L344.4 495.9L348.2 495.3L351.3 494.4L354.1 493.1L356.9 491.0L359.8 488.0L362.4 484.2L364.7 479.9L367.1 474.6L369.7 467.8L378.7 440.1L382.0 431.2L383.9 427.3L385.5 424.7L387.4 422.9L389.1 422.4L390.5 422.8L392.2 424.1L393.8 426.5L395.5 429.7L399.0 438.7L407.1 463.7L411.1 474.6L413.4 479.9L415.8 484.2L418.2 487.7L420.5 490.3L423.1 492.5L425.7 493.9L428.8 495.0L432.6 495.8L436.4 496.1L441.4 496.3L465.0 496.4"/><path stroke="#2ef2f2" stroke-width="1.3" d="M264.0 496.3L331.4 496.0L365.2 495.3L373.2 494.9L378.5 494.2L382.2 493.2L385.5 491.5L387.2 490.2L388.6 488.9L391.5 485.0L394.1 479.9L396.7 473.0L399.0 465.0L401.6 454.3L409.4 416.1L412.3 403.8L413.7 399.0L415.1 395.4L416.5 393.2L417.2 392.6L417.9 392.4L419.1 392.9L420.5 394.9L422.0 398.3L423.4 403.0L426.2 414.9L432.4 445.5L435.4 459.4L438.8 471.5L440.4 476.4L442.3 481.0L444.2 484.6L446.3 487.8L448.4 490.0L450.8 491.8L453.4 493.1L456.5 494.0L460.0 494.6L465.0 495.1"/><path stroke="#ff3bff" stroke-width="1.3" d="M264.0 496.4L365.0 496.3L405.2 496.1L416.8 495.8L424.8 495.4L430.7 494.8L435.0 493.9L438.3 492.6L440.9 490.8L442.8 488.4L444.4 484.7L445.6 480.6L446.8 474.9L448.0 467.4L450.3 449.7L451.0 446.1L451.5 444.9L451.8 444.8L452.2 445.4L452.9 448.3L456.3 472.1L457.2 477.4L458.4 482.4L459.6 485.9L461.0 488.8L462.6 490.8L465.0 492.5"/><path stroke="#f0268c" stroke-width="1.75" d="M264.0 492.9L268.5 486.5L271.1 483.9L272.0 482.6L273.2 480.3L275.4 475.2L276.5 473.3L277.5 472.8L280.1 473.3L281.5 472.9L283.6 471.5L290.7 465.7L292.6 464.7L294.5 464.3L296.2 464.4L297.8 464.9L299.7 466.1L302.1 468.1L305.9 472.4L312.2 481.7L316.0 486.5L317.7 488.3L319.3 489.6L321.2 490.8L323.1 491.6L326.2 492.5L329.3 493.0L333.0 493.2L336.4 492.9L341.8 491.9L348.2 490.3L351.5 489.0L354.1 487.4L356.9 484.9L359.3 482.0L361.2 478.4L363.3 473.3L365.9 466.0L369.9 453.5L379.6 420.1L381.3 415.4L382.9 411.9L384.6 409.4L386.7 406.9L388.4 405.3L391.2 403.3L393.3 402.0L395.5 401.0L399.3 400.4L400.4 400.0L401.9 399.2L403.3 398.1L405.4 395.7L407.8 392.3L412.0 384.2L413.4 381.9L415.1 380.2L416.1 379.7L416.8 379.6L417.9 380.1L418.9 381.4L419.8 383.7L421.0 387.8L423.4 398.7L427.9 422.8L431.4 440.3L434.3 452.0L436.4 458.2L437.8 460.8L439.0 462.1L439.7 462.2L440.2 462.0L441.4 460.5L446.1 448.9L447.0 445.5L450.1 432.4L450.8 430.6L451.3 430.1L451.5 430.1L452.2 431.6L452.9 435.2L456.5 462.8L457.9 471.4L459.3 478.4L460.7 483.7L461.9 486.6L462.6 487.6L463.3 488.2L465.0 488.8"/></g><text x="52.82" y="170.6" class="tk">200</text><text x="100.12" y="170.6" class="tk">400</text><text x="147.41" y="170.6" class="tk">600</text><text x="194.71" y="170.6" class="tk">800</text><text x="242.00" y="170.6" class="tk">1000</text><text x="43.5" y="22.0" class="pl">(a)</text><text x="275.82" y="170.6" class="tk">200</text><text x="323.12" y="170.6" class="tk">400</text><text x="370.41" y="170.6" class="tk">600</text><text x="417.71" y="170.6" class="tk">800</text><text x="465.00" y="170.6" class="tk">1000</text><text x="266.5" y="22.0" class="pl">(b)</text><text x="52.82" y="341.6" class="tk">200</text><text x="100.12" y="341.6" class="tk">400</text><text x="147.41" y="341.6" class="tk">600</text><text x="194.71" y="341.6" class="tk">800</text><text x="242.00" y="341.6" class="tk">1000</text><text x="43.5" y="194.0" class="pl">(c)</text><text x="275.82" y="341.6" class="tk">200</text><text x="323.12" y="341.6" class="tk">400</text><text x="370.41" y="341.6" class="tk">600</text><text x="417.71" y="341.6" class="tk">800</text><text x="465.00" y="341.6" class="tk">1000</text><text x="266.5" y="194.0" class="pl">(d)</text><text x="52.82" y="510.0" class="tk">200</text><text x="100.12" y="510.0" class="tk">400</text><text x="147.41" y="510.0" class="tk">600</text><text x="194.71" y="510.0" class="tk">800</text><text x="242.00" y="510.0" class="tk">1000</text><text x="43.5" y="362.0" class="pl">(e)</text><text x="275.82" y="510.0" class="tk">200</text><text x="323.12" y="510.0" class="tk">400</text><text x="370.41" y="510.0" class="tk">600</text><text x="417.71" y="510.0" class="tk">800</text><text x="465.00" y="510.0" class="tk">1000</text><text x="266.5" y="362.0" class="pl">(f)</text><text x="460.8" y="22.6" class="st">Sample A</text><text x="237.8" y="193.6" class="st">Sample B</text><text x="460.8" y="193.6" class="st">Sample C</text><text x="237.8" y="361.6" class="st">Sample D</text><text x="460.8" y="361.6" class="st">Sample E</text><line x1="88.3" x2="104.9" y1="16.9" y2="16.9" stroke="#ff3b3b" stroke-width="1.6"/><text transform="translate(109 19.6) scale(0.98 1.1)" class="lg">Sample A</text><line x1="88.3" x2="104.9" y1="27.8" y2="27.8" stroke="#3de23d" stroke-width="1.6"/><text transform="translate(109 30.3) scale(0.98 1.1)" class="lg">Sample B</text><line x1="88.3" x2="104.9" y1="38.8" y2="38.8" stroke="#3b3bff" stroke-width="1.6"/><text transform="translate(109 41.1) scale(0.98 1.1)" class="lg">Sample C</text><line x1="88.3" x2="104.9" y1="49.7" y2="49.7" stroke="#2ef2f2" stroke-width="1.6"/><text transform="translate(109 51.9) scale(0.98 1.1)" class="lg">Sample D</text><line x1="88.3" x2="104.9" y1="60.7" y2="60.7" stroke="#ff3bff" stroke-width="1.6"/><text transform="translate(109 62.6) scale(0.98 1.1)" class="lg">Sample E</text><line x1="301.0" x2="317.3" y1="35.2" y2="35.2" stroke="#ff3b3b" stroke-width="1.6"/><text transform="translate(319.5 38.4) scale(1 1.1)" class="lg">198 cm<tspan class="sup" dx="-0.6" dy="-5.9">-1</tspan></text><line x1="301.0" x2="317.3" y1="51.6" y2="51.6" stroke="#3de23d" stroke-width="1.6"/><text transform="translate(319.5 54.8) scale(1 1.1)" class="lg">254 cm<tspan class="sup" dx="-0.6" dy="-5.9">-1</tspan></text><line x1="301.0" x2="317.3" y1="68.0" y2="68.0" stroke="#3b3bff" stroke-width="1.6"/><text transform="translate(319.5 71.2) scale(1 1.1)" class="lg">663 cm<tspan class="sup" dx="-0.6" dy="-5.9">-1</tspan></text><line x1="301.0" x2="317.3" y1="84.4" y2="84.4" stroke="#2ef2f2" stroke-width="1.6"/><text transform="translate(319.5 87.6) scale(1 1.1)" class="lg">694 cm<tspan class="sup" dx="-0.6" dy="-5.9">-1</tspan></text><line x1="301.0" x2="317.3" y1="100.8" y2="100.8" stroke="#ff3bff" stroke-width="1.6"/><text transform="translate(319.5 104.0) scale(1 1.1)" class="lg">745 cm<tspan class="sup" dx="-0.6" dy="-5.9">-1</tspan></text><line x1="301.0" x2="317.3" y1="117.2" y2="117.2" stroke="#3434a0" stroke-width="1.6"/><text transform="translate(319.5 120.4) scale(1 1.1)" class="lg">856 cm<tspan class="sup" dx="-0.6" dy="-5.9">-1</tspan></text><line x1="301.0" x2="317.3" y1="133.6" y2="133.6" stroke="#a83040" stroke-width="1.6"/><text transform="translate(319.5 136.8) scale(1 1.1)" class="lg">943 cm<tspan class="sup" dx="-0.6" dy="-5.9">-1</tspan></text><line x1="80.3" x2="96.6" y1="208.2" y2="208.2" stroke="#ff3b3b" stroke-width="1.6"/><text transform="translate(98.8 211.4) scale(1 1.1)" class="lg">196 cm<tspan class="sup" dx="-0.6" dy="-5.9">-1</tspan></text><line x1="80.3" x2="96.6" y1="224.6" y2="224.6" stroke="#3de23d" stroke-width="1.6"/><text transform="translate(98.8 227.8) scale(1 1.1)" class="lg">272 cm<tspan class="sup" dx="-0.6" dy="-5.9">-1</tspan></text><line x1="80.3" x2="96.6" y1="241.0" y2="241.0" stroke="#3b3bff" stroke-width="1.6"/><text transform="translate(98.8 244.2) scale(1 1.1)" class="lg">682 cm<tspan class="sup" dx="-0.6" dy="-5.9">-1</tspan></text><line x1="80.3" x2="96.6" y1="257.3" y2="257.3" stroke="#2ef2f2" stroke-width="1.6"/><text transform="translate(98.8 260.5) scale(1 1.1)" class="lg">764 cm<tspan class="sup" dx="-0.6" dy="-5.9">-1</tspan></text><line x1="80.3" x2="96.6" y1="273.7" y2="273.7" stroke="#ff3bff" stroke-width="1.6"/><text transform="translate(98.8 276.9) scale(1 1.1)" class="lg">835 cm<tspan class="sup" dx="-0.6" dy="-5.9">-1</tspan></text><line x1="80.3" x2="96.6" y1="290.1" y2="290.1" stroke="#9c3fb0" stroke-width="1.6"/><text transform="translate(98.8 293.3) scale(1 1.1)" class="lg">943 cm<tspan class="sup" dx="-0.6" dy="-5.9">-1</tspan></text><line x1="302.0" x2="318.3" y1="207.4" y2="207.4" stroke="#ff3b3b" stroke-width="1.6"/><text transform="translate(320.5 210.6) scale(1 1.1)" class="lg">198 cm<tspan class="sup" dx="-0.6" dy="-5.9">-1</tspan></text><line x1="302.0" x2="318.3" y1="224.0" y2="224.0" stroke="#3de23d" stroke-width="1.6"/><text transform="translate(320.5 227.2) scale(1 1.1)" class="lg">278 cm<tspan class="sup" dx="-0.6" dy="-5.9">-1</tspan></text><line x1="302.0" x2="318.3" y1="240.6" y2="240.6" stroke="#3b3bff" stroke-width="1.6"/><text transform="translate(320.5 243.8) scale(1 1.1)" class="lg">680 cm<tspan class="sup" dx="-0.6" dy="-5.9">-1</tspan></text><line x1="302.0" x2="318.3" y1="257.2" y2="257.2" stroke="#2ef2f2" stroke-width="1.6"/><text transform="translate(320.5 260.4) scale(1 1.1)" class="lg">773 cm<tspan class="sup" dx="-0.6" dy="-5.9">-1</tspan></text><line x1="302.0" x2="318.3" y1="273.8" y2="273.8" stroke="#ff3bff" stroke-width="1.6"/><text transform="translate(320.5 277.0) scale(1 1.1)" class="lg">840 cm<tspan class="sup" dx="-0.6" dy="-5.9">-1</tspan></text><line x1="302.0" x2="318.3" y1="290.4" y2="290.4" stroke="#9c3fb0" stroke-width="1.6"/><text transform="translate(320.5 293.6) scale(1 1.1)" class="lg">943 cm<tspan class="sup" dx="-0.6" dy="-5.9">-1</tspan></text><line x1="79.0" x2="95.9" y1="375.3" y2="375.3" stroke="#ff3b3b" stroke-width="1.6"/><text transform="translate(98.1 378.5) scale(1 1.1)" class="lg">205 cm<tspan class="sup" dx="-0.6" dy="-5.9">-1</tspan></text><line x1="79.0" x2="95.9" y1="391.9" y2="391.9" stroke="#3de23d" stroke-width="1.6"/><text transform="translate(98.1 395.1) scale(1 1.1)" class="lg">281 cm<tspan class="sup" dx="-0.6" dy="-5.9">-1</tspan></text><line x1="79.0" x2="95.9" y1="408.5" y2="408.5" stroke="#3b3bff" stroke-width="1.6"/><text transform="translate(98.1 411.7) scale(1 1.1)" class="lg">660 cm<tspan class="sup" dx="-0.6" dy="-5.9">-1</tspan></text><line x1="79.0" x2="95.9" y1="425.1" y2="425.1" stroke="#2ef2f2" stroke-width="1.6"/><text transform="translate(98.1 428.3) scale(1 1.1)" class="lg">756 cm<tspan class="sup" dx="-0.6" dy="-5.9">-1</tspan></text><line x1="79.0" x2="95.9" y1="441.7" y2="441.7" stroke="#ff3bff" stroke-width="1.6"/><text transform="translate(98.1 444.9) scale(1 1.1)" class="lg">859 cm<tspan class="sup" dx="-0.6" dy="-5.9">-1</tspan></text><line x1="79.0" x2="95.9" y1="458.3" y2="458.3" stroke="#9c3fb0" stroke-width="1.6"/><text transform="translate(98.1 461.5) scale(1 1.1)" class="lg">948 cm<tspan class="sup" dx="-0.6" dy="-5.9">-1</tspan></text><line x1="302.0" x2="318.3" y1="376.0" y2="376.0" stroke="#ff3b3b" stroke-width="1.6"/><text transform="translate(320.5 379.2) scale(1 1.1)" class="lg">202 cm<tspan class="sup" dx="-0.6" dy="-5.9">-1</tspan></text><line x1="302.0" x2="318.3" y1="392.5" y2="392.5" stroke="#3de23d" stroke-width="1.6"/><text transform="translate(320.5 395.7) scale(1 1.1)" class="lg">281 cm<tspan class="sup" dx="-0.6" dy="-5.9">-1</tspan></text><line x1="302.0" x2="318.3" y1="409.0" y2="409.0" stroke="#3b3bff" stroke-width="1.6"/><text transform="translate(320.5 412.2) scale(1 1.1)" class="lg">679 cm<tspan class="sup" dx="-0.6" dy="-5.9">-1</tspan></text><line x1="302.0" x2="318.3" y1="425.5" y2="425.5" stroke="#2ef2f2" stroke-width="1.6"/><text transform="translate(320.5 428.7) scale(1 1.1)" class="lg">801 cm<tspan class="sup" dx="-0.6" dy="-5.9">-1</tspan></text><line x1="302.0" x2="318.3" y1="442.0" y2="442.0" stroke="#ff3bff" stroke-width="1.6"/><text transform="translate(320.5 445.2) scale(1 1.1)" class="lg">944 cm<tspan class="sup" dx="-0.6" dy="-5.9">-1</tspan></text><text x="71.5" y="133" class="x4">&#215;4</text><text x="70.5" y="148" class="x4">&#215;4</text><path d="M28 6 V517.5 H480.5" fill="none" stroke="#000" stroke-width="2.4"/><text transform="translate(18.6 246.6) rotate(-90)" class="yt">Intensity (arb.u)</text><text x="256.5" y="542.3" class="xt">Raman shift (cm<tspan class="sup2" dy="-7">-1</tspan><tspan dy="7">)</tspan></text></svg></body></html>
